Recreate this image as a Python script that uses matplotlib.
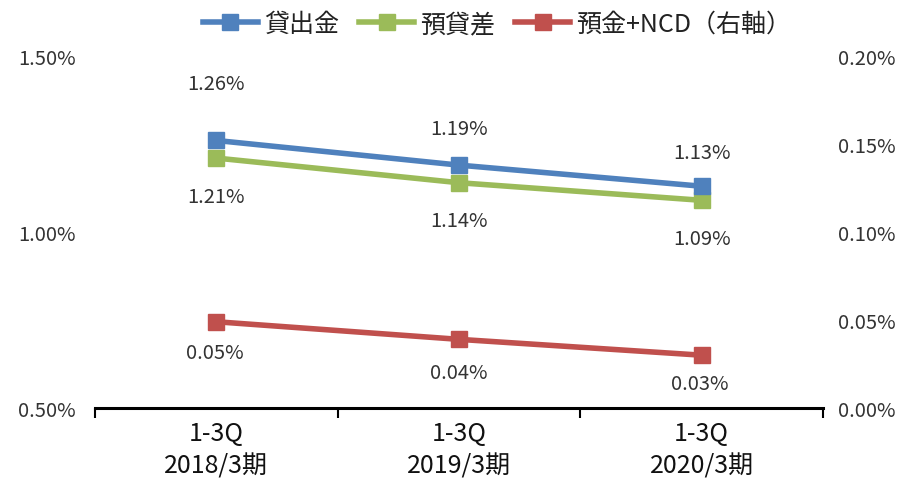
import matplotlib
matplotlib.use("Agg")
import matplotlib.pyplot as plt
from matplotlib.ticker import FuncFormatter

plt.rcParams['font.family'] = ['Noto Sans CJK JP', 'DejaVu Sans']

categories = ["1-3Q\n2018/3期", "1-3Q\n2019/3期", "1-3Q\n2020/3期"]
loans = [1.26, 1.19, 1.13]
spread = [1.21, 1.14, 1.09]
deposits = [0.049, 0.039, 0.030]
loans_lbl = ["1.26%", "1.19%", "1.13%"]
spread_lbl = ["1.21%", "1.14%", "1.09%"]
deposits_lbl = ["0.05%", "0.04%", "0.03%"]
series_names = ["貸出金", "預貸差", "預金+NCD（右軸）"]
left_ticks = [0.50, 1.00, 1.50]
right_ticks = [0.00, 0.05, 0.10, 0.15, 0.20]

c_blue, c_green, c_red = "#4F81BD", "#9BBB59", "#C0504D"
txt = "#333333"

fig = plt.figure(figsize=(8.99, 4.81), dpi=100)
ax = fig.add_axes([0.1057, 0.1497, 0.8098, 0.7318])
ax2 = ax.twinx()

x = list(range(len(categories)))
l2, = ax.plot(x, spread, color=c_green, lw=4, marker='s', ms=12, label=series_names[1], zorder=3)
l1, = ax.plot(x, loans, color=c_blue, lw=4, marker='s', ms=12, label=series_names[0], zorder=4)
l3, = ax2.plot(x, deposits, color=c_red, lw=4, marker='s', ms=12, label=series_names[2])

ax.set_xlim(-0.5, 2.5)
ax.set_ylim(0.5, 1.5)
ax2.set_ylim(0.0, 0.2)
ax.set_yticks(left_ticks)
ax2.set_yticks(right_ticks)
ax.yaxis.set_major_formatter(FuncFormatter(lambda v, p: f"{v:.2f}%"))
ax2.yaxis.set_major_formatter(FuncFormatter(lambda v, p: f"{v:.2f}%"))

for a in (ax, ax2):
    for s in ('top', 'left', 'right', 'bottom'):
        a.spines[s].set_visible(False)
ax.spines['bottom'].set_visible(True)
ax.spines['bottom'].set_linewidth(2.2)
ax.spines['bottom'].set_color('black')

ax.tick_params(axis='y', length=0, pad=14, labelsize=14.5, colors=txt)
ax2.tick_params(axis='y', length=0, pad=11, labelsize=14.5, colors=txt)
ax.set_xticks([-0.5, 0.5, 1.5, 2.5], minor=False)
ax.set_xticklabels([])
ax.tick_params(axis='x', which='major', length=7, width=1.5, direction='out')
ax.set_xticks(x, minor=True)
ax.set_xticklabels(categories, minor=True, fontsize=18, linespacing=1.3, color='#111111')
ax.tick_params(axis='x', which='minor', length=0, pad=9)

lblkw = dict(textcoords='offset pixels', ha='center', va='center', fontsize=14.5, color=txt)
loan_off = [57, 37, 34]
for i in x:
    ax.annotate(loans_lbl[i], (x[i], loans[i]), xytext=(0, loan_off[i]), **lblkw)
    ax.annotate(spread_lbl[i], (x[i], spread[i]), xytext=(0, -38), **lblkw)
red_off = [-31, -33, -28]
for i in x:
    ax2.annotate(deposits_lbl[i], (x[i], deposits[i]), xytext=(-2 if i != 1 else 0, red_off[i]), **lblkw)

fig.legend(handles=[l1, l2, l3], loc='center', bbox_to_anchor=(0.553, 0.948), ncol=3,
           frameon=False, fontsize=18, handlelength=2.2, columnspacing=0.8, handletextpad=0.25,
           markerscale=1.0, labelcolor='#222222')

fig.savefig("out.png", dpi=100)
